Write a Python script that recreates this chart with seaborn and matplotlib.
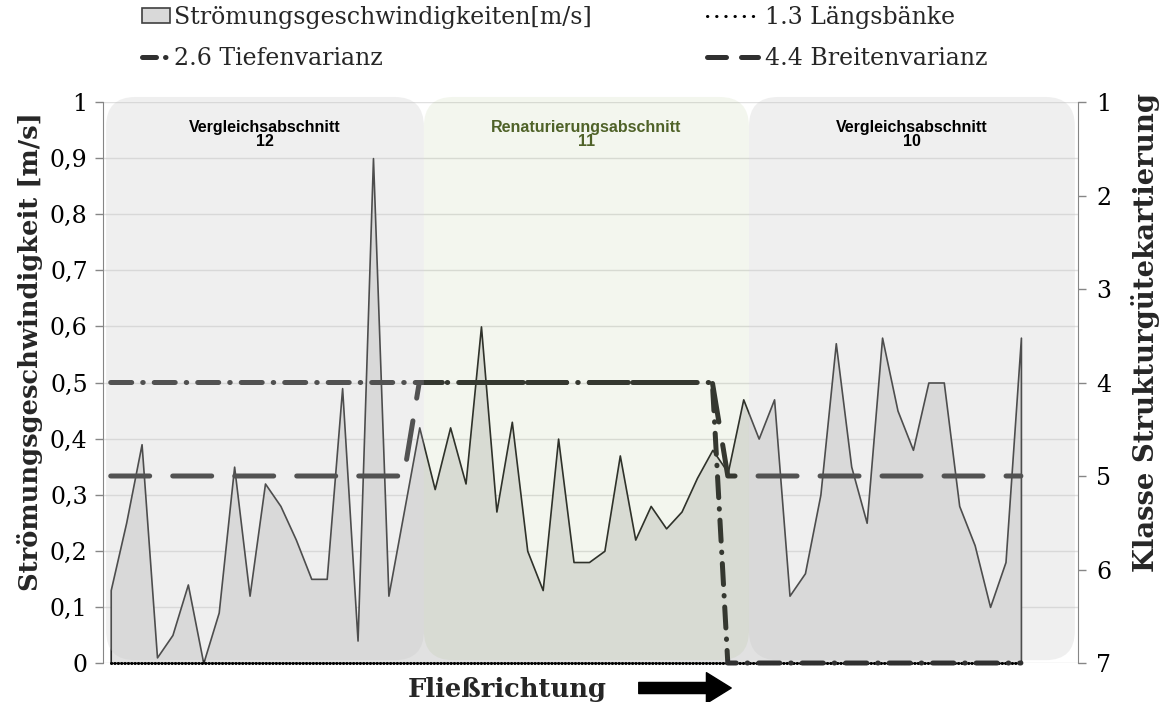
import matplotlib
matplotlib.use("Agg")
import matplotlib.pyplot as plt
from matplotlib.patches import FancyBboxPatch, Patch, FancyArrowPatch
from matplotlib.lines import Line2D
from matplotlib.ticker import FixedLocator, FuncFormatter
import numpy as np
import seaborn as sns

# ---------------------------------------------------------------- data
# flow velocity per measuring point [m/s]
velocity = [0.13, 0.25, 0.39, 0.01, 0.05, 0.14, 0.00, 0.09, 0.35, 0.12,
            0.32, 0.28, 0.22, 0.15, 0.15, 0.49, 0.04, 0.90, 0.12, 0.27,
            0.42, 0.31, 0.42, 0.32, 0.60, 0.27, 0.43, 0.20, 0.13, 0.40,
            0.18, 0.18, 0.20, 0.37, 0.22, 0.28, 0.24, 0.27, 0.33, 0.38,
            0.34, 0.47, 0.40, 0.47, 0.12, 0.16, 0.30, 0.57, 0.35, 0.25,
            0.58, 0.45, 0.38, 0.50, 0.50, 0.28, 0.21, 0.10, 0.18, 0.58]

# structure quality classes (1 = best, 7 = worst)
laengsbaenke = [7, 7, 7, 7, 7, 7, 7, 7, 7, 7,
                7, 7, 7, 7, 7, 7, 7, 7, 7, 7,
                7, 7, 7, 7, 7, 7, 7, 7, 7, 7,
                7, 7, 7, 7, 7, 7, 7, 7, 7, 7,
                7, 7, 7, 7, 7, 7, 7, 7, 7, 7,
                7, 7, 7, 7, 7, 7, 7, 7, 7, 7]
tiefenvarianz = [4, 4, 4, 4, 4, 4, 4, 4, 4, 4,
                 4, 4, 4, 4, 4, 4, 4, 4, 4, 4,
                 4, 4, 4, 4, 4, 4, 4, 4, 4, 4,
                 4, 4, 4, 4, 4, 4, 4, 4, 4, 4,
                 7, 7, 7, 7, 7, 7, 7, 7, 7, 7,
                 7, 7, 7, 7, 7, 7, 7, 7, 7, 7]
breitenvarianz = [5, 5, 5, 5, 5, 5, 5, 5, 5, 5,
                  5, 5, 5, 5, 5, 5, 5, 5, 5, 5,
                  4, 4, 4, 4, 4, 4, 4, 4, 4, 4,
                  4, 4, 4, 4, 4, 4, 4, 4, 4, 4,
                  5, 5, 5, 5, 5, 5, 5, 5, 5, 5,
                  5, 5, 5, 5, 5, 5, 5, 5, 5, 5]

series_labels = ["Strömungsgeschwindigkeiten[m/s]", "1.3 Längsbänke",
                 "2.6 Tiefenvarianz", "4.4 Breitenvarianz"]
section_labels = ["Vergleichsabschnitt\n12", "Renaturierungsabschnitt\n11",
                  "Vergleichsabschnitt\n10"]
section_edges = [-0.3, 20.3, 41.37, 62.5]
left_ticks = [0.0, 0.1, 0.2, 0.3, 0.4, 0.5, 0.6, 0.7, 0.8, 0.9, 1.0]
right_ticks = [1, 2, 3, 4, 5, 6, 7]

# ---------------------------------------------------------------- style
sns.set_style("white")
plt.rcParams["font.family"] = ["DejaVu Serif"]
plt.rcParams["font.size"] = 17

TICK_FS = 17
LABEL_FS = 18.5

W, H = 1162, 702
fig = plt.figure(figsize=(W / 100, H / 100), dpi=100)
ax_l, ax_r, ax_t, ax_b = 103, 1078, 102, 663
ax = fig.add_axes([ax_l / W, (H - ax_b) / H, (ax_r - ax_l) / W, (ax_b - ax_t) / H])

x = np.arange(len(velocity))
XMIN, XMAX = -0.5, 62.7
ax.set_xlim(XMIN, XMAX)
ax.set_ylim(0, 1)

# area of flow velocities
ax.fill_between(x, 0, velocity, facecolor="#e1e1e1", edgecolor="#2a2a2a",
                linewidth=1.2, zorder=2)

ax.yaxis.set_major_locator(FixedLocator(left_ticks))
ax.yaxis.set_major_formatter(FuncFormatter(
    lambda v, _: "0" if v == 0 else ("1" if v == 1 else f"{v:.1f}".replace(".", ","))))
ax.set_xticks([])
ax.yaxis.grid(True, color="#e0e0e0", linewidth=1.0)
ax.set_axisbelow(True)
for side in ["top", "right", "bottom"]:
    ax.spines[side].set_visible(False)
ax.spines["left"].set_color("#868686")
ax.tick_params(axis="y", direction="out", length=6, width=1, color="#868686",
               pad=5, labelsize=TICK_FS, labelcolor="black")

# structure classes on the inverted secondary axis
ax2 = ax.twinx()
line_col = "#303030"
sns.lineplot(x=x, y=laengsbaenke, ax=ax2, color="black", linewidth=2.2,
             linestyle=(0, (0.1, 1.0)), dash_capstyle="round", clip_on=False)
sns.lineplot(x=x, y=breitenvarianz, ax=ax2, color=line_col, linewidth=3.6,
             linestyle=(0, (7.8, 4.6)), dash_capstyle="round", clip_on=False)
sns.lineplot(x=x, y=tiefenvarianz, ax=ax2, color=line_col, linewidth=3.6,
             linestyle=(0, (4.2, 2.2, 0.1, 2.2)), dash_capstyle="round",
             clip_on=False)
ax2.set_xlim(XMIN, XMAX)
ax2.set_ylim(7, 1)
ax2.set_xlabel("")
ax2.set_ylabel("")
ax2.yaxis.set_major_locator(FixedLocator(right_ticks))
for side in ["top", "left", "bottom"]:
    ax2.spines[side].set_visible(False)
ax2.spines["right"].set_color("#868686")
ax2.tick_params(axis="y", direction="out", length=6, width=1, color="#868686",
                pad=7, labelsize=TICK_FS, labelcolor="black")

# rounded section boxes laid over the plot
px_x = (ax_r - ax_l) / (XMAX - XMIN)
px_y = (ax_b - ax_t) / 1.0
aspect = px_x / px_y
box_styles = [("#c0c0c0", 0.24), ("#729832", 0.08), ("#c0c0c0", 0.24)]
text_cols = ["black", "#4f6228", "black"]
for i, (lab, (fc, al), tc) in enumerate(zip(section_labels, box_styles, text_cols)):
    x0, x1 = section_edges[i], section_edges[i + 1]
    box = FancyBboxPatch((x0, 0.005), x1 - x0, 1.004,
                         boxstyle="round,pad=0,rounding_size=1.9",
                         mutation_aspect=aspect, transform=ax.transData,
                         facecolor=fc, edgecolor="none", alpha=al,
                         zorder=5, clip_on=False)
    ax2.add_artist(box)
    ax2.text((x0 + x1) / 2, 0.968, lab, transform=ax.transData, ha="center",
             va="top", fontsize=11.5, fontweight="bold", color=tc,
             family="Liberation Sans", linespacing=0.95, zorder=6)

# axis titles
fig.text(30 / W, 1 - 352 / H, "Strömungsgeschwindigkeit [m/s]", rotation=90,
         ha="center", va="center", fontsize=LABEL_FS, fontweight="bold")
fig.text(1146 / W, 1 - 333 / H, "Klasse Strukturgütekartierung", rotation=90,
         ha="center", va="center", fontsize=LABEL_FS + 1.3, fontweight="bold")
fig.text(507 / W, 1 - 689 / H, "Fließrichtung", ha="center", va="center",
         fontsize=LABEL_FS, fontweight="bold")
fig.patches.append(FancyArrowPatch(
    (636, H - 688), (734, H - 688), transform=None,
    arrowstyle="simple,head_length=1.05,head_width=1.3,tail_width=0.47",
    mutation_scale=17, color="black"))

# legends
h_area = Patch(facecolor="#d9d9d9", edgecolor="#404040", linewidth=1.2)
h_tief = Line2D([], [], color="#303030", linewidth=3.6,
                linestyle=(0, (2.8, 1.8, 0.1, 2.2)), dash_capstyle="round")
h_laeng = Line2D([], [], color="black", linewidth=2.2,
                 linestyle=(0, (0.1, 2.9)), dash_capstyle="round")
h_breit = Line2D([], [], color="#303030", linewidth=3.6,
                 linestyle=(0, (3.8, 3.0)), dash_capstyle="round")

leg_kw = dict(loc="upper left", frameon=False, fontsize=TICK_FS,
              handleheight=0.6, borderpad=0, borderaxespad=0,
              labelspacing=0.76)
fig.legend([h_area, h_tief], [series_labels[0], series_labels[2]],
           bbox_to_anchor=(142 / W, 1 - 6 / H), handlelength=1.2,
           handletextpad=0.15, **leg_kw)
fig.legend([h_laeng, h_breit], [series_labels[1], series_labels[3]],
           bbox_to_anchor=(707 / W, 1 - 6 / H), handlelength=2.15,
           handletextpad=0.3, **leg_kw)

fig.savefig("out.png", dpi=100)
